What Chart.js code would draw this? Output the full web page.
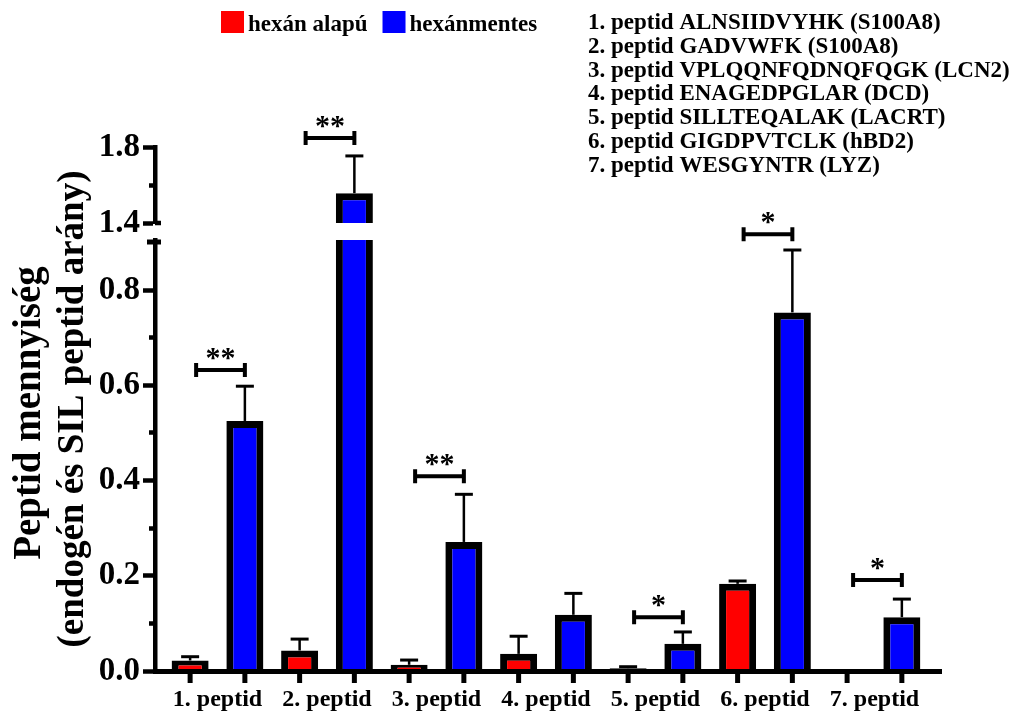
<!DOCTYPE html>
<html>
<head>
<meta charset="utf-8">
<script src="https://cdn.jsdelivr.net/npm/chart.js@4.4.1/dist/chart.umd.min.js"></script>
<style>
  html, body { margin: 0; padding: 0; background: #fff; }
</style>
</head>
<body>
<canvas id="peptideChart" width="1020" height="715"></canvas>
<script>
// data
const categories = ['1. peptid', '2. peptid', '3. peptid', '4. peptid', '5. peptid', '6. peptid', '7. peptid'];
const hexanBased = [0.022, 0.043, 0.013, 0.036, 0.006, 0.183, 0];
const hexanBasedErr = [0.008, 0.024, 0.010, 0.037, 0.003, 0.006, 0];
const hexanFree = [0.525, 1.557, 0.271, 0.118, 0.057, 0.753, 0.113];
const hexanFreeErr = [0.073, 0.196, 0.100, 0.045, 0.025, 0.131, 0.038];
const sigMarks = ['**', '**', '**', '', '*', '*', '*'];
const sigHeights = [0.632, 1.847, 0.409, null, 0.113, 0.917, 0.191];
const seriesLabels = ['hexán alapú', 'hexánmentes'];
const seriesColors = ['#ff0000', '#0000ff'];
const peptideNames = [
    '1. peptid ALNSIIDVYHK (S100A8)',
    '2. peptid GADVWFK (S100A8)',
    '3. peptid VPLQQNFQDNQFQGK (LCN2)',
    '4. peptid ENAGEDPGLAR (DCD)',
    '5. peptid SILLTEQALAK (LACRT)',
    '6. peptid GIGDPVTCLK (hBD2)',
    '7. peptid WESGYNTR (LYZ)'
];
const yTitle = ['Peptid mennyiség', '(endogén és SIL peptid arány)'];
const lowerTicks = [0, 0.1, 0.2, 0.3, 0.4, 0.5, 0.6, 0.7, 0.8];
const lowerTickLabels = ['0.0', '', '0.2', '', '0.4', '', '0.6', '', '0.8'];
const upperTicks = [1.4, 1.6, 1.8];
const upperTickLabels = ['1.4', '', '1.8'];

// broken axis limits
const LOWER_MAX = 0.905;
const UPPER_MIN = 1.4;
const UPPER_MAX = 1.8;

const FONT = '"Liberation Serif", "Times New Roman", serif';
const BAR_BORDER = 7;

const toPoints = arr => arr.map((v, i) => ({ x: i + 1, y: v }));
const lowerFree = hexanFree.map(v => Math.min(v, LOWER_MAX));
const upperFree = hexanFree.map(v => (v >= UPPER_MIN ? v : null));

function yAxis(ticks, labels, extra) {
    return Object.assign({
        type: 'linear',
        position: 'left',
        stack: 'v',
        stacked: false,
        beginAtZero: false,
        afterBuildTicks: s => { s.ticks = ticks.map(v => ({ value: v })); },
        afterFit: s => { s.width = 155; },
        border: { display: true, color: '#000', width: 4.5, z: 1 },
        grid: {
            drawOnChartArea: false,
            drawTicks: true,
            tickLength: 12,
            tickWidth: 4.5,
            tickColor: '#000',
            // minor ticks: only the half next to the axis
            tickBorderDash: c => (labels[c.index] ? [] : [0, 6, 9, 100])
        },
        ticks: {
            autoSkip: false,
            padding: 3,
            color: '#000',
            font: { family: FONT, size: 33, weight: 'bold' },
            callback: (v, i) => labels[i]
        }
    }, extra);
}

const annotatePlugin = {
    id: 'annotate',
    afterDatasetsDraw(chart) {
        const ctx = chart.ctx;
        const area = chart.chartArea;
        const yLow = chart.scales.y, yHigh = chart.scales.y2;
        const scaleFor = v => (v >= UPPER_MIN ? yHigh : yLow);
        const redBars = chart.getDatasetMeta(0).data;
        const blueBars = chart.getDatasetMeta(1).data;
        ctx.save();
        ctx.strokeStyle = '#000';
        ctx.fillStyle = '#000';

        // error bars (upper half only)
        [[redBars, hexanBased, hexanBasedErr], [blueBars, hexanFree, hexanFreeErr]].forEach(([bars, vals, errs]) => {
            bars.forEach((bar, i) => {
                if (!errs[i]) return;
                const s = scaleFor(vals[i]);
                const yTop = s.getPixelForValue(vals[i]);
                const yCap = s.getPixelForValue(vals[i] + errs[i]);
                ctx.lineWidth = 2.5;
                ctx.beginPath(); ctx.moveTo(bar.x, yTop); ctx.lineTo(bar.x, yCap); ctx.stroke();
                ctx.lineWidth = 3;
                ctx.beginPath(); ctx.moveTo(bar.x - 9, yCap); ctx.lineTo(bar.x + 9, yCap); ctx.stroke();
            });
        });

        // x tick marks under every bar
        ctx.lineWidth = 5;
        [redBars, blueBars].forEach(bars => bars.forEach(bar => {
            ctx.beginPath(); ctx.moveTo(bar.x, area.bottom); ctx.lineTo(bar.x, area.bottom + 12); ctx.stroke();
        }));

        // axis break caps
        const ax = area.left;
        ctx.lineWidth = 5;
        const yBreakLow = yLow.getPixelForValue(LOWER_MAX) + 2;
        ctx.beginPath(); ctx.moveTo(ax - 8, yBreakLow); ctx.lineTo(ax + 6, yBreakLow); ctx.stroke();
        ctx.lineWidth = 4.5;
        const yBreakHigh = yHigh.getPixelForValue(UPPER_MIN);
        ctx.beginPath(); ctx.moveTo(ax, yBreakHigh); ctx.lineTo(ax + 6, yBreakHigh); ctx.stroke();

        // significance brackets
        ctx.font = `bold 30px ${FONT}`;
        ctx.textAlign = 'center';
        ctx.textBaseline = 'alphabetic';
        categories.forEach((c, i) => {
            if (!sigMarks[i]) return;
            const yy = scaleFor(sigHeights[i]).getPixelForValue(sigHeights[i]);
            const x1 = redBars[i].x + 6, x2 = blueBars[i].x;
            ctx.lineWidth = 4;
            ctx.beginPath();
            ctx.moveTo(x1, yy); ctx.lineTo(x2, yy);
            ctx.moveTo(x1, yy - 7); ctx.lineTo(x1, yy + 7);
            ctx.moveTo(x2, yy - 7); ctx.lineTo(x2, yy + 7);
            ctx.stroke();
            ctx.fillText(sigMarks[i], (x1 + x2) / 2, yy - 3);
        });
        ctx.restore();
    },
    afterDraw(chart) {
        const ctx = chart.ctx;
        const area = chart.chartArea;
        ctx.save();
        ctx.fillStyle = '#000';
        ctx.textBaseline = 'alphabetic';
        ctx.textAlign = 'left';

        // legend
        ctx.font = `bold 23px ${FONT}`;
        let lx = 221;
        seriesLabels.forEach((label, i) => {
            ctx.fillStyle = seriesColors[i];
            ctx.fillRect(lx, 11, 23, 22);
            ctx.fillStyle = '#000';
            ctx.fillText(label, lx + 27, 31);
            lx += 27 + ctx.measureText(label).width + 15;
        });

        // peptide key
        peptideNames.forEach((name, i) => {
            ctx.fillText(name, 588, 29 + i * 23.8);
        });

        // y axis title
        ctx.textAlign = 'center';
        ctx.textBaseline = 'middle';
        const cy = (area.top + area.bottom) / 2;
        ctx.translate(0, cy);
        ctx.rotate(-Math.PI / 2);
        ctx.font = `bold 39px ${FONT}`;
        ctx.fillText(yTitle[0], -4, 30);
        ctx.font = `bold 37px ${FONT}`;
        ctx.fillText(yTitle[1], 0, 73);
        ctx.restore();
    }
};

new Chart(document.getElementById('peptideChart'), {
    type: 'bar',
    data: {
        datasets: [
            {
                label: seriesLabels[0],
                data: toPoints(hexanBased),
                backgroundColor: seriesColors[0],
                stack: 'a',
                yAxisID: 'y'
            },
            {
                label: seriesLabels[1],
                data: toPoints(lowerFree),
                backgroundColor: seriesColors[1],
                stack: 'b',
                yAxisID: 'y',
                borderWidth: c => (hexanFree[c.dataIndex] > LOWER_MAX
                    ? { top: 0, left: BAR_BORDER, right: BAR_BORDER, bottom: 0 } : BAR_BORDER)
            },
            {
                label: seriesLabels[1],
                data: toPoints(upperFree),
                backgroundColor: seriesColors[1],
                stack: 'b',
                yAxisID: 'y2'
            }
        ]
    },
    options: {
        responsive: false,
        animation: false,
        devicePixelRatio: 1,
        layout: { padding: { top: 147, right: 79, left: 0, bottom: 0 } },
        datasets: {
            bar: {
                borderColor: '#000',
                borderWidth: BAR_BORDER,
                borderSkipped: 'start',
                categoryPercentage: 1.0,
                barPercentage: 0.676
            }
        },
        plugins: {
            legend: { display: false },
            tooltip: { enabled: false }
        },
        scales: {
            x: {
                type: 'linear',
                min: 0.4292,
                max: 7.6075,
                offset: false,
                afterBuildTicks: s => { s.ticks = categories.map((c, i) => ({ value: i + 1 })); },
                afterFit: s => { s.height = 44; },
                grid: { display: false, drawTicks: false },
                border: { display: true, color: '#000', width: 5, z: 1 },
                ticks: {
                    autoSkip: false,
                    maxRotation: 0,
                    padding: 14,
                    color: '#000',
                    font: { family: FONT, size: 24, weight: 'bold' },
                    callback: v => categories[v - 1]
                }
            },
            y: yAxis(lowerTicks, lowerTickLabels, { min: 0, max: LOWER_MAX, stackWeight: 431 }),
            yGap: { type: 'linear', position: 'left', stack: 'v', stackWeight: 17, display: false, min: 0, max: 1 },
            y2: yAxis(upperTicks, upperTickLabels, { min: UPPER_MIN, max: UPPER_MAX, stackWeight: 76 })
        }
    },
    plugins: [annotatePlugin]
});
</script>
</body>
</html>
